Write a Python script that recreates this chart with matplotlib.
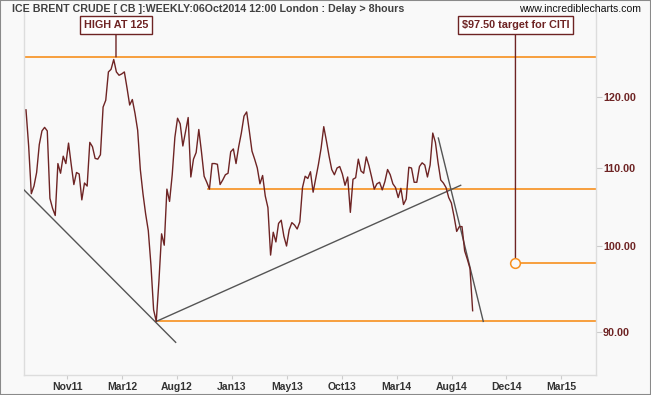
import numpy as np
import matplotlib
matplotlib.use("Agg")
import matplotlib.pyplot as plt
from matplotlib.ticker import NullLocator, FixedLocator

# weekly closes, ICE Brent, week 0 = mid Jul 2011
close = [
    118.1, 113.0, 106.6, 107.6, 109.4, 113.2, 115.1, 115.6, 115.1, 106.0,
    104.7, 103.8, 110.6, 109.3, 111.6, 110.6, 113.4, 110.5, 107.8, 109.4,
    109.2, 105.8, 108.0, 107.6, 113.5, 112.9, 111.3, 111.2, 111.8, 118.5,
    119.5, 123.7, 124.1, 125.6, 123.7, 123.2, 123.4, 123.7, 121.3, 118.8,
    119.6, 117.6, 115.2, 109.8, 106.6, 104.0, 101.9, 97.7, 92.5, 91.2,
    95.8, 101.5, 100.1, 107.2, 105.6, 109.1, 114.2, 116.9, 116.1, 113.0,
    115.0, 117.0, 108.8, 111.2, 112.1, 115.3, 112.2, 108.9, 108.1, 107.2,
    110.6, 110.6, 110.5, 107.8, 108.4, 109.1, 109.3, 112.2, 112.6, 110.6,
    112.9, 114.8, 117.2, 117.8, 115.1, 112.3, 111.2, 110.0, 107.9, 109.0,
    106.3, 104.8, 98.9, 101.7, 100.5, 102.8, 103.2, 101.2, 100.0, 102.0,
    102.9, 102.6, 102.1, 103.0, 107.4, 108.9, 108.6, 109.5, 106.8, 108.6,
    110.5, 112.7, 115.7, 113.7, 111.6, 109.8, 109.1, 110.0, 110.2, 109.2,
    107.7, 108.8, 104.2, 108.5, 108.7, 111.2, 109.6, 109.3, 111.5, 110.3,
    108.8, 107.2, 107.9, 108.1, 107.1, 108.2, 109.8, 109.1, 107.9, 107.4,
    106.1, 107.3, 105.2, 105.9, 110.1, 110.0, 108.1, 108.1, 110.2, 110.7,
    110.4, 108.8, 110.4, 114.8, 113.5, 110.7, 108.4, 108.0, 107.4, 106.1,
    105.4, 103.7, 101.8, 102.4, 102.4, 99.4, 98.4, 97.3, 92.4,
]
weeks = np.arange(len(close))

tick_labels = ['Nov11', 'Mar12', 'Aug12', 'Jan13', 'May13', 'Oct13',
               'Mar14', 'Aug14', 'Dec14', 'Mar15']
price_ticks = [90, 100, 110, 120]

# trend lines: (week, price) end points
trend_a_w, trend_a_p = [-0.75, 56.3], [107.1, 88.9]
trend_b_w, trend_b_p = [49, 163.5], [91.2, 107.7]
trend_c_w, trend_c_p = [155.1, 172.0], [114.1, 91.2]

# horizontal levels: (start week, price)
levels = [(-0.75, 126.0), (68.6, 107.2), (49, 91.2)]
high_week, high_level = 33.85, 126.0
citi_week, citi_level = 184.1, 98.0

title = 'ICE BRENT CRUDE [ CB ]:WEEKLY:06Oct2014 12:00 London : Delay > 8hours'

bg = '#f9f9f9'
maroon = '#6e2424'
orange = '#f7901e'
trend_col = '#555555'

fig = plt.figure(figsize=(6.51, 3.95), dpi=100, facecolor=bg)
W, H = 651, 395
ax = fig.add_axes([24 / W, (H - 375) / H, (596 - 24) / W, (375 - 12) / H])
ax.set_facecolor(bg)

x_left, x_right = -0.75, 214.4
ax.set_yscale('log')
ax.set_xlim(x_left, x_right)
ax.set_ylim(85.42, 133.1)

ax.plot(weeks, close, color=maroon, lw=1.0, zorder=4)

for w0, lvl in levels:
    ax.plot([w0, x_right], [lvl, lvl], color=orange, lw=1.2, zorder=2)
ax.plot([citi_week, x_right], [citi_level, citi_level], color=orange, lw=1.2, zorder=2)

for tw, tp in [(trend_a_w, trend_a_p), (trend_b_w, trend_b_p), (trend_c_w, trend_c_p)]:
    ax.plot(tw, tp, color=trend_col, lw=1.0, zorder=3)

ax.plot([citi_week], [citi_level], 'o', ms=7, mfc=bg, mec=orange, mew=1.1, zorder=6)

box = dict(boxstyle='square,pad=0.35', fc='white', ec=maroon, lw=1)
arrow = dict(arrowstyle='-', color=maroon, lw=1, shrinkA=0, shrinkB=0)
ax.annotate('HIGH AT 125', xy=(high_week, high_level), xytext=(high_week, 131.0),
            ha='center', va='center', fontsize=7.8, fontweight='bold',
            color=maroon, family='Liberation Sans', bbox=box, arrowprops=arrow,
            zorder=7)
ax.annotate('$97.50 target for CITI', xy=(citi_week, citi_level), xytext=(citi_week, 131.0),
            ha='center', va='center', fontsize=7.8, fontweight='bold',
            color=maroon, family='Liberation Sans', bbox=box,
            arrowprops=dict(arrowstyle='-', color=maroon, lw=1, shrinkA=0, shrinkB=3.5),
            zorder=5)

ax.yaxis.tick_right()
ax.yaxis.set_major_locator(FixedLocator(price_ticks))
ax.yaxis.set_minor_locator(NullLocator())
ax.set_yticklabels(['%.2f' % v for v in price_ticks])
ax.set_xticks(15.5 + 20.65 * np.arange(len(tick_labels)))
ax.set_xticklabels(tick_labels)

ax.tick_params(axis='y', length=4, color='#cccccc', pad=1, labelsize=7.8,
               labelcolor=maroon)
ax.tick_params(axis='x', length=3, color='#cccccc', pad=2, labelsize=7.5,
               labelcolor='#333333')
for lab in ax.get_xticklabels() + ax.get_yticklabels():
    lab.set_fontweight('bold')
    lab.set_family('Liberation Sans')

ax.spines['top'].set_visible(False)
for side in ['left', 'right', 'bottom']:
    ax.spines[side].set_color('#dddddd')
    ax.spines[side].set_linewidth(1)

fig.text(12 / W, 1 - 8.5 / H, title, ha='left', va='center', fontsize=7.7,
         fontweight='bold', color='#404040', family='Liberation Sans')
fig.text(641 / W, 1 - 9 / H, 'www.incrediblecharts.com', ha='right', va='center',
         fontsize=7.6, color='#111111', family='Liberation Sans')

# outer frame
fig.add_artist(plt.Rectangle((0, 0), 1, 1, transform=fig.transFigure, fill=False,
                             ec='#8a8a8a', lw=1.5))

fig.savefig('out.png', dpi=100, facecolor=bg)
